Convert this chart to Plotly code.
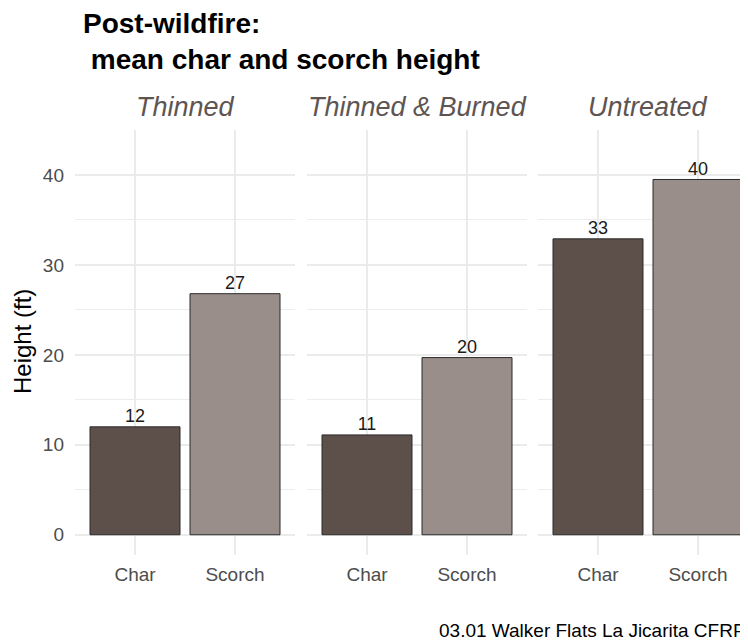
import plotly.graph_objects as go

# ---- data ----
treatments = ["Thinned", "Thinned & Burned", "Untreated"]
measures = ["Char", "Scorch"]
char_height = [12.0, 11.1, 32.9]
scorch_height = [26.8, 19.7, 39.5]
bar_colors = ["#5d504b", "#998e8a"]
y_ticks = [0, 10, 20, 30, 40]

# the page body adds an 8px margin; lay out in window pixels and shift
OFF = 8
WIN_W, WIN_H = 748, 643
W, H = WIN_W - OFF, WIN_H - OFF
FONT = "Liberation Sans, Arial, sans-serif"


def px(x):
    return (x - OFF) / W


def py(y):
    return 1 - (y - OFF) / H


# panel pixel geometry (window coordinates)
panels_px = [(75, 295), (307, 527), (538, 748)]
top_px, bot_px = 130, 555
x_ranges = [[-0.6, 1.6], [-0.6, 1.6], [-0.6, 1.5]]

fig = go.Figure()
for i, t in enumerate(treatments):
    vals = [char_height[i], scorch_height[i]]
    ax = "" if i == 0 else str(i + 1)
    fig.add_trace(go.Bar(
        x=measures, y=vals,
        marker=dict(color=bar_colors, line=dict(color="#2b2b2b", width=1)),
        width=0.9,
        xaxis="x" + ax, yaxis="y" + ax,
        showlegend=False,
        hoverinfo="x+y",
    ))
    fig.add_trace(go.Scatter(
        x=measures, y=vals, mode="text",
        text=[f"{round(v):d}" for v in vals],
        textposition="top center",
        textfont=dict(family=FONT, size=18, color="#1a1a1a"),
        cliponaxis=False,
        xaxis="x" + ax, yaxis="y" + ax,
        showlegend=False, hoverinfo="skip",
    ))

layout = dict(
    width=W, height=H,
    margin=dict(l=0, r=0, t=0, b=0),
    paper_bgcolor="white", plot_bgcolor="white",
    font=dict(family=FONT),
)

ydom = [py(bot_px), py(top_px)]
for i in range(3):
    ax = "" if i == 0 else str(i + 1)
    x0, x1 = panels_px[i]
    layout["xaxis" + ax] = dict(
        domain=[px(x0), min(px(x1), 1.0)], range=x_ranges[i], type="category",
        anchor="y" + ax,
        showgrid=True, gridcolor="#ebebeb", gridwidth=1.5,
        showline=False, zeroline=False, ticks="",
        tickfont=dict(family=FONT, size=19, color="#4d4d4d"),
        ticklabelstandoff=6,
        fixedrange=True,
    )
    ydict = dict(
        domain=ydom, range=[-2.25, 45], anchor="x" + ax,
        tickvals=y_ticks,
        showgrid=True, gridcolor="#ebebeb", gridwidth=1.5,
        minor=dict(tickvals=[5, 15, 25, 35], showgrid=True,
                   gridcolor="#ededed", gridwidth=1.1),
        zeroline=False, showline=False, ticks="",
        tickfont=dict(family=FONT, size=19, color="#4d4d4d"),
        ticklabelstandoff=10,
        fixedrange=True,
    )
    if i > 0:
        ydict["showticklabels"] = False
        ydict["matches"] = "y"
    layout["yaxis" + ax] = ydict

anns = []
# title
anns.append(dict(
    text="<b>Post-wildfire:</b><br><b>&nbsp;mean char and scorch height</b>",
    x=px(81), y=py(6), xref="paper", yref="paper",
    xanchor="left", yanchor="top", align="left", showarrow=False,
    font=dict(family=FONT, size=28, color="#000000"),
))
# strip labels
for i, t in enumerate(treatments):
    x0, _ = panels_px[i]
    cx = x0 + 110
    anns.append(dict(
        text=f"<i>{t}</i>", x=px(cx), y=py(107),
        xref="paper", yref="paper", xanchor="center", yanchor="middle",
        showarrow=False,
        font=dict(family=FONT, size=27, color="#5e5552"),
    ))
# y axis title
anns.append(dict(
    text="Height (ft)", x=px(22), y=py(342), xref="paper", yref="paper",
    xanchor="center", yanchor="middle", textangle=-90, showarrow=False,
    font=dict(family=FONT, size=24, color="#000000"),
))
# caption
anns.append(dict(
    text="03.01 Walker Flats La Jicarita CFRP", x=px(437), y=py(630),
    xref="paper", yref="paper", xanchor="left", yanchor="middle",
    showarrow=False,
    font=dict(family=FONT, size=19, color="#000000"),
))
layout["annotations"] = anns

fig.update_layout(**layout)
fig.write_html("out.html", config={"displayModeBar": False})
